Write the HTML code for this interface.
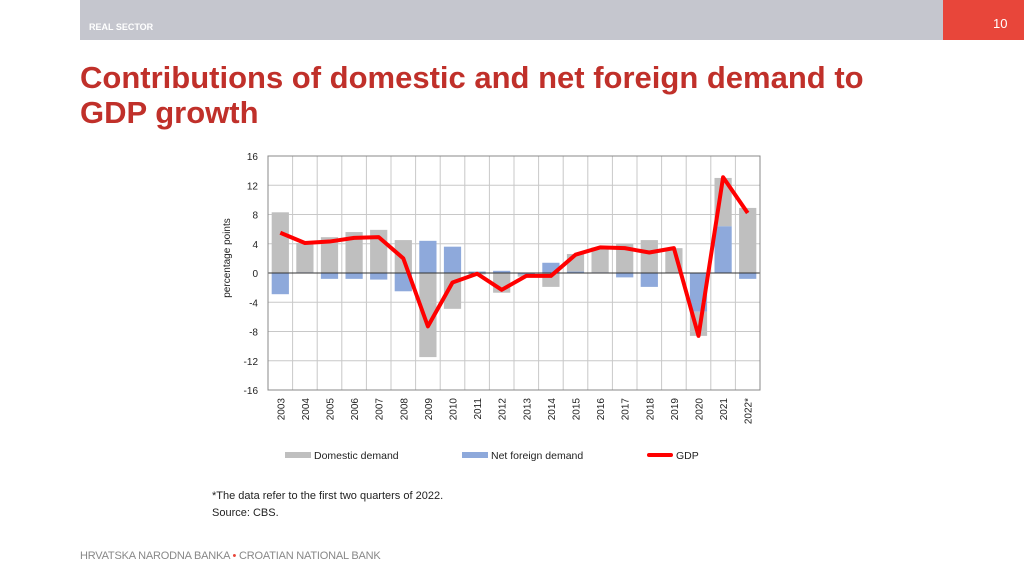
<!DOCTYPE html>
<html><head><meta charset="utf-8"><style>
body{margin:0;width:1024px;height:576px;background:#fff;position:relative;overflow:hidden;font-family:"Liberation Sans",sans-serif}
.abs{position:absolute}
</style></head><body>
<div class="abs" style="left:80px;top:0;width:863px;height:40px;background:#c5c6ce"></div>
<div class="abs" style="left:89px;top:22px;color:#fff;font-size:9px;font-weight:bold">REAL SECTOR</div>
<div class="abs" style="left:943px;top:0;width:81px;height:40px;background:#e8463a"></div>
<div class="abs" style="left:993px;top:16px;color:#fff;font-size:13px">10</div>
<div class="abs" style="left:80px;top:60px;color:#c0302a;font-size:31px;font-weight:bold;line-height:35px;width:900px;white-space:nowrap">Contributions of domestic and net foreign demand to<br>GDP growth</div>
<svg class="abs" style="left:0;top:0" width="1024" height="576" id="chart"></svg>
<div class="abs" style="left:212px;top:488px;font-size:11px;color:#222;line-height:17px">*The data refer to the first two quarters of 2022.<br>Source: CBS.</div>
<div class="abs" style="left:80px;top:550px;font-size:11px;color:#888;letter-spacing:-0.2px">HRVATSKA NARODNA BANKA <span style="color:#e8463a">•</span> CROATIAN NATIONAL BANK</div>
<script>
const categories=["2003","2004","2005","2006","2007","2008","2009","2010","2011","2012","2013","2014","2015","2016","2017","2018","2019","2020","2021","2022*"];
const domestic=[8.3,4.0,4.9,5.6,5.9,4.5,-11.5,-4.9,-0.2,-2.7,-0.3,-1.9,2.4,3.4,4.0,4.5,3.4,-3.3,6.6,8.9];
const netForeign=[-2.9,0.1,-0.8,-0.8,-0.9,-2.5,4.4,3.6,0.2,0.3,-0.2,1.4,0.2,0.1,-0.6,-1.9,0.0,-5.3,6.4,-0.8];
const gdp=[5.5,4.1,4.3,4.8,4.9,2.0,-7.3,-1.3,-0.1,-2.3,-0.4,-0.4,2.5,3.5,3.4,2.8,3.4,-8.6,13.1,8.2];
const ticks=[16,12,8,4,0,-4,-8,-12,-16];
const svg=document.getElementById('chart');const NS='http://www.w3.org/2000/svg';
const L=268,R=760,T=156,B=390,ymin=-16,ymax=16;
const n=categories.length,cw=(R-L)/n;
const y=v=>T+(ymax-v)/(ymax-ymin)*(B-T);
const x=i=>L+cw*(i+0.5);
function mk(tag,attrs){const e=document.createElementNS(NS,tag);for(const k in attrs)e.setAttribute(k,attrs[k]);svg.appendChild(e);return e;}
ticks.forEach(t=>{
 const g=mk('line',{x1:L,x2:R,y1:y(t),y2:y(t),stroke:'#c8c8c8','stroke-width':1});
 
 
 const tl=mk('text',{x:258,y:y(t)+4,'text-anchor':'end','font-size':10,fill:'#222'});tl.textContent=t;
 
 
});
for(let i=1;i<n;i++){const v=mk('line',{x1:L+cw*i,x2:L+cw*i,y1:T,y2:B,stroke:'#c8c8c8','stroke-width':1});
 
 }
const bw=cw*0.7;
categories.forEach((c,i)=>{
 let pos=0,neg=0;
 [[netForeign[i],'#8ea9db','bar-net-foreign'],[domestic[i],'#bfbfbf','bar-domestic']].forEach(([v,col,nm])=>{
  let y0,y1;
  if(v>=0){y0=pos;y1=pos+v;pos=y1;}else{y0=neg;y1=neg+v;neg=y1;}
  const r=mk('rect',{x:x(i)-bw/2,y:Math.min(y(y0),y(y1)),width:bw,height:Math.abs(y(y1)-y(y0)),fill:col});
  
  
 });
 const t=mk('text',{transform:`translate(${x(i)+4},${B+8}) rotate(-90)`,'text-anchor':'end','font-size':10,fill:'#222'});t.textContent=c;
 
 
});
const z=mk('line',{x1:L,x2:R,y1:y(0),y2:y(0),stroke:'#333','stroke-width':1});


const fr=mk('rect',{x:L,y:T,width:R-L,height:B-T,fill:'none',stroke:'#888','stroke-width':1});


const pl=mk('polyline',{points:gdp.map((v,i)=>x(i)+','+y(v)).join(' '),fill:'none',stroke:'#ff0000','stroke-width':4,'stroke-linejoin':'round'});


const yt=mk('text',{transform:'translate(230,258) rotate(-90)','text-anchor':'middle','font-size':10,fill:'#222'});yt.textContent='percentage points';


[[285,'#bfbfbf','Domestic demand','legend-domestic',6],[462,'#8ea9db','Net foreign demand','legend-net-foreign',6],[647,'#ff0000','GDP','legend-gdp',4]].forEach(([lx,col,txt,nm,h])=>{
 const s=mk('rect',{x:lx,y:455-h/2,width:26,height:h,fill:col,rx:h==4?2:0});
 
 
 const t=mk('text',{x:lx+29,y:459,'font-size':10.5,fill:'#222'});t.textContent=txt;
 
 
});
</script>
</body></html>
